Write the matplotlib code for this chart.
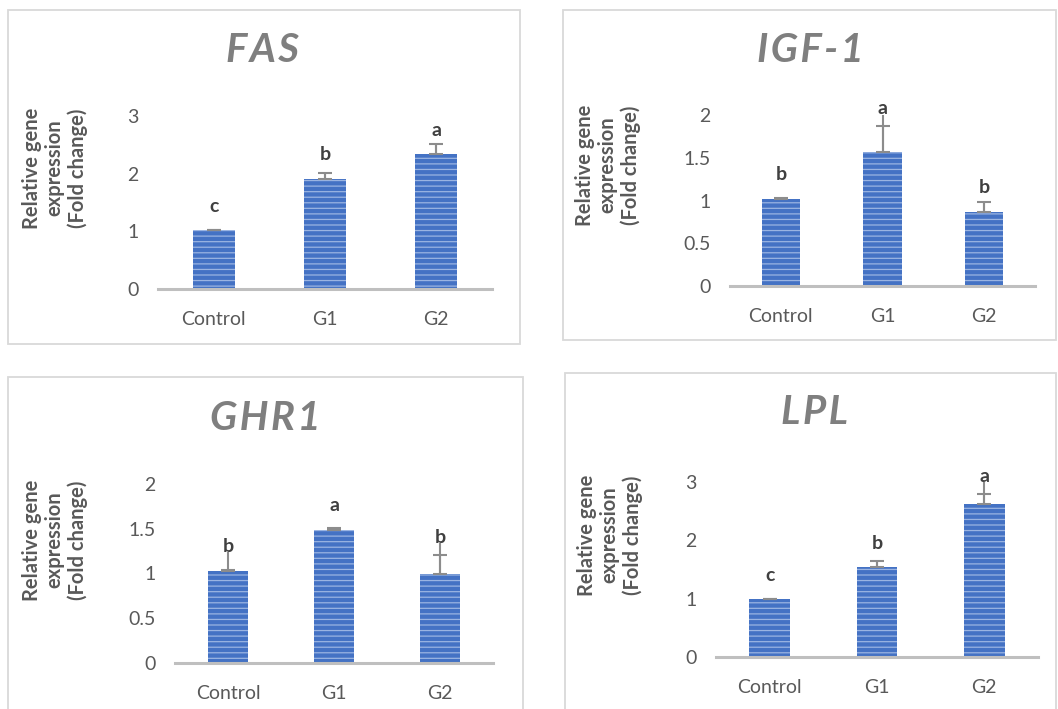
import matplotlib.pyplot as plt
from matplotlib.patches import Rectangle

plt.rcParams['font.family'] = ['Lato', 'DejaVu Sans']
plt.rcParams['hatch.linewidth'] = 0.9

groups = ['Control', 'G1', 'G2']

# FAS
fas_mean = [1.02, 1.91, 2.34]
fas_err = [0.01, 0.10, 0.17]
fas_whisker = [1.03, 2.01, 2.51]
fas_sig = ['c', 'b', 'a']

# IGF-1
igf_mean = [1.02, 1.57, 0.87]
igf_err = [0.01, 0.30, 0.11]
igf_whisker = [1.03, 2.0, 0.98]
igf_sig = ['b', 'a', 'b']

# GHR1
ghr_mean = [1.03, 1.49, 0.99]
ghr_err = [0.01, 0.02, 0.22]
ghr_whisker = [1.24, 1.51, 1.34]
ghr_sig = ['b', 'a', 'b']

# LPL
lpl_mean = [0.99, 1.54, 2.62]
lpl_err = [0.01, 0.11, 0.18]
lpl_whisker = [1.0, 1.65, 3.0]
lpl_sig = ['c', 'b', 'a']

W, H = 1058, 709
fig = plt.figure(figsize=(W / 100, H / 100), dpi=100)

bar_c = '#4472C4'
stripe_c = '#9AB4E2'
grey = '#595959'
err_c = '#8C8C8C'


def px_axes(l, r, t, b):
    return fig.add_axes([l / W, 1 - b / H, (r - l) / W, (b - t) / H])


def frame(l, t, r, b):
    fig.patches.append(Rectangle((l / W, 1 - b / H), (r - l) / W, (b - t) / H,
                                 transform=fig.transFigure, fill=False,
                                 edgecolor='#D9D9D9', linewidth=1.3))


def panel(box, ax_px, title, title_xy, ylab_xy, mean, err, whisker, sig, ymax, yticks, ylabels):
    frame(*box)
    ax = px_axes(*ax_px)
    ppu = (ax_px[3] - ax_px[2]) / ymax   # pixels per data unit
    x = range(len(groups))
    ax.bar(x, mean, width=0.38, color=bar_c, edgecolor=stripe_c, linewidth=0,
           hatch='---', zorder=2)
    # whisker line running past the cap (clipped at the axis top)
    ax.vlines(x, mean, whisker, color=err_c, linewidth=1.5, zorder=3)
    ax.errorbar(x, mean, yerr=[[0] * len(mean), err], fmt='none', ecolor=err_c,
                elinewidth=1.5, capsize=5, capthick=1.5, zorder=3)
    for i in x:
        # letter sits 24 px above the bar, or just above a long whisker
        y = max(mean[i] + 24 / ppu, min(whisker[i], ymax) + 6 / ppu)
        ax.text(i, y, sig[i], ha='center', va='center', fontsize=14,
                fontweight='bold', color='#404040', clip_on=False)
    ax.set_xlim(-0.5, 2.5)
    ax.set_ylim(0, ymax)
    ax.set_yticks(yticks)
    ax.set_yticklabels(ylabels)
    ax.set_xticks(list(x))
    ax.set_xticklabels(groups)
    ax.tick_params(length=0, labelsize=14, labelcolor=grey)
    ax.tick_params(axis='x', pad=16)
    ax.tick_params(axis='y', pad=14)
    for s in ['top', 'right', 'left']:
        ax.spines[s].set_visible(False)
    ax.spines['bottom'].set_color('#BFBFBF')
    ax.spines['bottom'].set_linewidth(2.2)
    ax.patch.set_alpha(0)
    fig.text(title_xy[0] / W, 1 - title_xy[1] / H, '\u200a'.join(title),
             ha='center', va='center', fontsize=29, fontweight='bold',
             fontstyle='italic', color='#7F7F7F')
    fig.text(ylab_xy[0] / W, 1 - ylab_xy[1] / H, 'Relative gene\nexpression\n(Fold change)',
             ha='center', va='center', rotation=90, fontsize=14.5, fontweight='bold',
             color=grey, linespacing=1.15)
    return ax


panel((8, 10, 520, 344), (158, 492, 116, 289), 'FAS', (263, 50), (55, 168),
      fas_mean, fas_err, fas_whisker, fas_sig, 3, [0, 1, 2, 3], ['0', '1', '2', '3'])
panel((563, 10, 1056, 340), (730, 1035, 115, 286), 'IGF-1', (810, 50), (608, 165),
      igf_mean, igf_err, igf_whisker, igf_sig, 2, [0, 0.5, 1, 1.5, 2],
      ['0', '0.5', '1', '1.5', '2'])
panel((8, 377, 523, 712), (175, 493, 484, 663), 'GHR1', (265, 418), (55, 540),
      ghr_mean, ghr_err, ghr_whisker, ghr_sig, 2, [0, 0.5, 1, 1.5, 2],
      ['0', '0.5', '1', '1.5', '2'])
panel((565, 373, 1056, 712), (716, 1038, 482, 657), 'LPL', (815, 412), (610, 535),
      lpl_mean, lpl_err, lpl_whisker, lpl_sig, 3, [0, 1, 2, 3], ['0', '1', '2', '3'])

fig.savefig('out.png', dpi=100)
